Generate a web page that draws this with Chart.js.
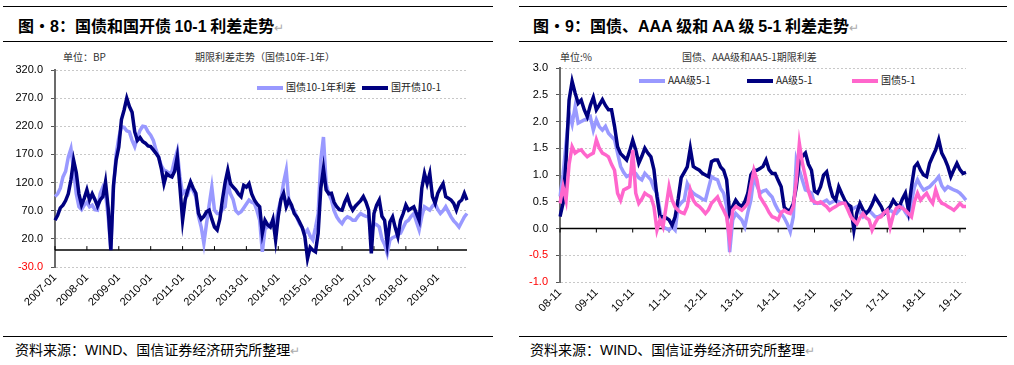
<!DOCTYPE html>
<html lang="zh-CN">
<head>
<meta charset="UTF-8">
<title>利差走势</title>
<style type="text/css">
  body { margin:0; width:1014px; height:365px; background:#fff; position:relative; overflow:hidden; font-family:"Noto Sans CJK SC", sans-serif; }
  .rule { position:absolute; height:0; border-top:1.5px solid #000; }
  .title { position:absolute; font-size:16px; font-weight:bold; color:#000; white-space:nowrap; line-height:20px; }
  .latin { font-family:"Liberation Sans", Arial, sans-serif; }
  .note { position:absolute; font-size:10px; color:#333; white-space:nowrap; line-height:12px; }
  .src { position:absolute; font-size:14px; color:#000; white-space:nowrap; line-height:18px; }
  .mark { color:#aaa; font-weight:normal; font-size:12px; }
  .leg { position:absolute; font-size:10px; color:#222; white-space:nowrap; line-height:12px; }
  .leg i { display:inline-block; width:26px; height:4px; vertical-align:middle; margin-right:3px; }
  canvas { position:absolute; }
</style>
</head>
<body>
  <!-- left panel -->
  <div class="rule" style="left:3px;top:6px;width:490px"></div>
  <div class="title" style="left:18px;top:15px">图·<span class="latin">8</span>：国债和国开债 <span class="latin">10-1</span> 利差走势<span class="mark">↵</span></div>
  <div class="rule" style="left:3px;top:41px;width:490px"></div>
  <div class="note" style="left:63px;top:51px">单位：BP</div>
  <div class="note" style="left:195px;top:51px">期限利差走势（国债10年-1年）</div>
  <div class="leg" style="left:257px;top:81px"><i style="background:#9999ff"></i>国债10-1年利差</div>
  <div class="leg" style="left:362px;top:81px"><i style="background:#000080"></i>国开债10-1</div>
  <canvas id="leftChart" width="500" height="285" style="left:0;top:48px"></canvas>
  <div class="rule" style="left:3px;top:336px;width:490px"></div>
  <div class="src" style="left:15px;top:340px">资料来源：<span class="latin">WIND</span>、国信证券经济研究所整理<span class="mark">↵</span></div>

  <!-- right panel -->
  <div class="rule" style="left:519px;top:6px;width:488px"></div>
  <div class="title" style="left:533px;top:15px">图·<span class="latin">9</span>：国债、<span class="latin">AAA</span> 级和 <span class="latin">AA</span> 级 <span class="latin">5-1</span> 利差走势<span class="mark">↵</span></div>
  <div class="rule" style="left:519px;top:41px;width:488px"></div>
  <div class="note" style="left:560px;top:51px">单位:%</div>
  <div class="note" style="left:682px;top:51px">国债、AAA级和AA5-1期限利差</div>
  <div class="leg" style="left:639px;top:74px"><i style="background:#9999ff"></i>AAA级5-1</div>
  <div class="leg" style="left:747px;top:74px"><i style="background:#000080"></i>AA级5-1</div>
  <div class="leg" style="left:852px;top:74px"><i style="background:#ff66cc"></i>国债5-1</div>
  <canvas id="rightChart" width="493" height="285" style="left:507px;top:48px"></canvas>
  <div class="rule" style="left:519px;top:336px;width:488px"></div>
  <div class="src" style="left:530px;top:340px">资料来源：<span class="latin">WIND</span>、国信证券经济研究所整理<span class="mark">↵</span></div>

<script src="https://cdn.jsdelivr.net/npm/chart.js"></script>
<script>
// ---- data: left chart (BP), monthly 2007-01 .. 2019-12
const leftYears = ['2007-01','2008-01','2009-01','2010-01','2011-01','2012-01','2013-01',
  '2014-01','2015-01','2016-01','2017-01','2018-01','2019-01'];
const leftYTicks = [-30, 20, 70, 120, 170, 220, 270, 320];

const govSpread10_1 = [
  95, 100, 110, 130, 140, 165, 180, 142, 100, 77, 72, 80,
  85, 77, 80, 72, 71, 100, 112, 101, 60, 2, 110, 170,
  200, 219, 218, 212, 210, 195, 184, 200, 213, 220, 219, 210,
  204, 195, 178, 165, 150, 142, 140, 136, 140, 160, 176, 130,
  100, 105, 100, 118, 105, 95, 60, 41, 12, 47, 80, 112,
  71, 65, 65, 72, 77, 118, 100, 90, 70, 65, 68, 75,
  82, 89, 85, 83, 70, 53, -3, 38, 41, 47, 45, 47,
  71, 90, 120, 142, 85, 75, 70, 58, 47, 40, 30, 36,
  25, 18, 40, 65, 160, 201, 118, 100, 89, 70, 59, 52,
  47, 55, 59, 57, 53, 53, 60, 65, 62, 60, 59, 30,
  47, 45, 41, 20, 10, -6, 18, 22, 24, 28, 30, 40,
  50, 53, 60, 65, 50, 36, 60, 77, 74, 71, 78, 83,
  72, 65, 70, 77, 68, 59, 52, 47, 41, 50, 59, 65
];
const cdbSpread10_1 = [
  53, 62, 75, 80, 88, 100, 125, 160, 138, 100, 80, 92,
  107, 89, 100, 90, 78, 89, 95, 121, 75, 0, 115, 160,
  183, 232, 249, 270, 255, 245, 210, 195, 200, 193, 190, 185,
  184, 178, 172, 165, 145, 118, 136, 132, 130, 140, 166, 112,
  53, 90, 107, 121, 110, 101, 65, 55, 60, 68, 71, 55,
  41, 36, 55, 90, 120, 142, 118, 112, 107, 100, 95, 115,
  112, 118, 100, 89, 82, 77, 30, 53, 45, 41, 55, 18,
  60, 90, 101, 77, 89, 80, 65, 59, 50, 40, 24, -15,
  5, 0, -3, 30, 110, 145, 107, 100, 101, 85, 77, 72,
  71, 85, 95, 80, 71, 78, 83, 88, 95, 85, 71, -6,
  65, 80, 89, 60, 53, 12, 50, 59, 40, 24, 53, 65,
  80, 71, 74, 77, 65, 53, 110, 136, 118, 136, 95, 83,
  101, 110, 118, 95, 92, 89, 83, 71, 85, 89, 101, 89
];

// ---- data: right chart (%), monthly 2008-11 .. 2020-01
const rightYears = ['08-11','09-11','10-11','11-11','12-11','13-11','14-11','15-11','16-11','17-11','18-11','19-11'];
const rightYTicks = [-1, -0.5, 0, 0.5, 1, 1.5, 2, 2.5, 3];

const aaaSpread5_1 = [
  0.6, 1.0, 1.59, 2.16, 1.95, 2.28, 1.97, 2.0, 2.03, 2.05, 2.09, 1.84,
  2.03, 1.9, 1.84, 1.91, 1.78, 1.72, 1.66, 1.41, 1.16, 1.05, 0.97, 1.0,
  1.03, 1.03, 0.95, 0.91, 1.03, 0.97, 0.91, 0.75, 0.66, 0.34, 0.03, 0.0,
  -0.03, 0.03, -0.03, 0.41, 0.48, 0.53, 0.84, 0.72, 0.66, 0.62, 0.59, 0.55,
  0.53, 0.75, 0.97, 0.93, 0.91, 0.75, 0.66, 0.41, -0.44, 0.16, 0.28, 0.22,
  0.16, 0.03, 0.3, 0.53, 0.97, 0.8, 0.66, 0.7, 0.72, 0.65, 0.59, 0.45,
  0.34, 0.28, 0.2, 0.09, -0.06, 0.22, 1.28, 1.09, 0.9, 0.72, 0.7, 0.66,
  0.47, 0.47, 0.47, 0.5, 0.53, 0.47, 0.5, 0.53, 0.5, 0.47, 0.47, 0.4,
  0.34, 0.38, 0.41, 0.3, 0.22, 0.28, 0.34, 0.28, 0.22, 0.22, 0.25, 0.28,
  0.3, 0.34, 0.3, 0.28, 0.35, 0.41, 0.3, 0.22, 0.5, 0.78, 0.91, 0.8,
  0.72, 0.75, 0.78, 0.84, 0.9, 0.97, 0.8, 0.72, 0.78, 0.75, 0.72, 0.7,
  0.66, 0.6, 0.53
];
const aaSpread5_1 = [
  0.22, 0.47, 1.28, 2.4, 2.75, 2.53, 2.34, 2.4, 2.22, 2.09, 2.3, 2.45,
  2.22, 2.31, 2.41, 2.3, 2.22, 2.22, 1.91, 1.53, 1.4, 1.34, 1.28, 1.45,
  1.65, 1.47, 1.22, 1.35, 1.5, 1.41, 1.34, 1.1, 0.6, 0.22, 0.22, 0.2,
  0.16, 0.06, 0.22, 0.55, 0.95, 1.05, 1.15, 1.5, 1.16, 1.12, 1.09, 1.03,
  1.0, 0.97, 1.25, 1.28, 1.28, 1.15, 1.09, 0.91, 0.28, 0.41, 0.53, 0.45,
  0.41, 0.5, 0.66, 1.0, 1.09, 1.09, 1.12, 1.16, 1.28, 1.1, 1.03, 1.03,
  0.9, 0.78, 0.4, 0.34, 0.34, 0.47, 0.78, 1.28, 1.35, 1.41, 1.2, 1.09,
  0.7, 0.66, 0.78, 1.0, 1.06, 0.8, 0.6, 0.53, 0.78, 0.65, 0.53, 0.45,
  0.41, -0.03, 0.3, 0.47, 0.35, 0.28, 0.34, 0.45, 0.59, 0.5, 0.41, 0.28,
  0.35, 0.41, 0.53, 0.45, 0.41, 0.55, 0.66, 0.34, 0.78, 1.15, 1.22, 1.09,
  1.0, 0.97, 1.22, 1.35, 1.47, 1.66, 1.41, 1.3, 1.16, 0.97, 1.1, 1.22,
  1.1, 1.03, 1.05
];
const govSpread5_1 = [
  0.47, 0.78, 0.53, 1.2, 1.53, 1.41, 1.45, 1.47, 1.4, 1.34, 1.38, 1.41,
  1.66, 1.5, 1.41, 1.38, 1.34, 1.2, 1.09, 0.66, 0.53, 0.72, 0.75, 0.78,
  1.47, 0.66, 0.47, 0.55, 0.66, 0.62, 0.59, 0.41, -0.03, 0.16, 0.03, 0.4,
  0.78, 0.53, 0.4, 0.34, 0.3, 0.28, 0.41, 0.72, 0.53, 0.45, 0.41, 0.35,
  0.28, 0.35, 0.47, 0.53, 0.59, 0.45, 0.34, 0.22, -0.22, 0.34, 0.41, 0.38,
  0.34, 0.4, 0.47, 0.8, 1.09, 0.91, 0.59, 0.5, 0.41, 0.3, 0.22, 0.2,
  0.16, 0.3, 0.34, 0.3, 0.28, 0.41, 0.9, 1.59, 1.22, 0.97, 0.7, 0.53,
  0.5, 0.47, 0.5, 0.45, 0.41, 0.34, 0.38, 0.41, 0.45, 0.47, 0.47, 0.35,
  0.22, 0.15, 0.09, 0.2, 0.28, 0.2, 0.16, -0.03, 0.1, 0.2, 0.22, 0.3,
  0.34, 0.03, 0.25, 0.38, 0.41, 0.38, 0.34, 0.28, 0.22, 0.5, 0.66, 0.53,
  0.6, 0.66, 0.55, 0.47, 0.72, 0.55, 0.47, 0.45, 0.41, 0.38, 0.34, 0.4,
  0.47, 0.41, 0.41
];

// month categories
const leftDates = [];
for (let y = 2007; y <= 2019; y++)
  for (let m = 1; m <= 12; m++) leftDates.push(y + '-' + String(m).padStart(2, '0'));
const rightDates = [];
for (let y = 2008; y <= 2020; y++)
  for (let m = 1; m <= 12; m++) {
    if ((y === 2008 && m < 11) || (y === 2020 && m > 1)) continue;
    rightDates.push(String(y).slice(2) + '-' + String(m).padStart(2, '0'));
  }

// solid zero line with small year ticks on it
const zeroAxis = {
  id: 'zeroAxis',
  beforeDatasetsDraw(chart, args, opts) {
    const { ctx, chartArea, scales: { x, y } } = chart;
    const y0 = y.getPixelForValue(0);
    ctx.save();
    ctx.strokeStyle = '#000';
    ctx.lineWidth = 1.5;
    ctx.beginPath();
    ctx.moveTo(chartArea.left, y0);
    ctx.lineTo(chartArea.right, y0);
    ctx.stroke();
    ctx.lineWidth = 1;
    opts.marks.forEach(l => {
      const px = x.getPixelForValue(chart.data.labels.indexOf(l));
      ctx.beginPath();
      ctx.moveTo(px, y0);
      ctx.lineTo(px, y0 + opts.dir * 4);
      ctx.stroke();
    });
    ctx.restore();
  }
};

const tickFont = { family: '"Liberation Sans", Arial, sans-serif', size: 11 };

function buildChart(id, labels, datasets, yTicks, xMarks, geo) {
  return new Chart(document.getElementById(id), {
    type: 'line',
    data: { labels, datasets },
    plugins: [zeroAxis],
    options: {
      responsive: false,
      animation: false,
      layout: { padding: { top: geo.top, right: geo.right, left: 0, bottom: 0 } },
      plugins: {
        legend: { display: false },
        tooltip: { enabled: false },
        zeroAxis: { marks: xMarks, dir: geo.dir }
      },
      elements: { point: { radius: 0 }, line: { borderWidth: 3.5, tension: 0 } },
      scales: {
        x: {
          type: 'category',
          offset: false,
          afterFit: s => { s.height = geo.xh; },
          grid: { display: false, drawTicks: false },
          border: { display: false },
          ticks: {
            autoSkip: false, minRotation: 45, maxRotation: 45, padding: 4,
            color: '#000', font: tickFont,
            callback(v) {
              const l = this.getLabelForValue(v);
              return xMarks.includes(l) ? l : null;
            }
          }
        },
        y: {
          min: yTicks[0],
          max: yTicks[yTicks.length - 1],
          afterFit: s => { s.width = geo.yw; },
          afterBuildTicks: s => { s.ticks = yTicks.map(v => ({ value: v })); },
          grid: { color: '#c8c8c8', tickColor: '#555', tickLength: 4 },
          border: { display: true, color: '#6b6b6b', width: 2, dash: [2, 2] },
          ticks: {
            padding: 8, font: tickFont,
            color: c => (c.tick && c.tick.value < 0 ? '#ff0000' : '#000'),
            callback: v => Number(v).toFixed(1)
          }
        }
      }
    }
  });
}

buildChart('leftChart', leftDates, [
  { label: '国债10-1年利差', data: govSpread10_1, borderColor: '#9999ff', order: 1 },
  { label: '国开债10-1', data: cdbSpread10_1, borderColor: '#000080', order: 0 }
], leftYTicks, leftYears, { top: 22, right: 33, yw: 55, xh: 66, dir: -1 });

buildChart('rightChart', rightDates, [
  { label: 'AAA级5-1', data: aaaSpread5_1, borderColor: '#9999ff', order: 2 },
  { label: 'AA级5-1', data: aaSpread5_1, borderColor: '#000080', order: 1 },
  { label: '国债5-1', data: govSpread5_1, borderColor: '#ff66cc', order: 0 }
], rightYTicks, rightYears, { top: 20, right: 34, yw: 53, xh: 51, dir: 1 });
</script>
</body>
</html>
